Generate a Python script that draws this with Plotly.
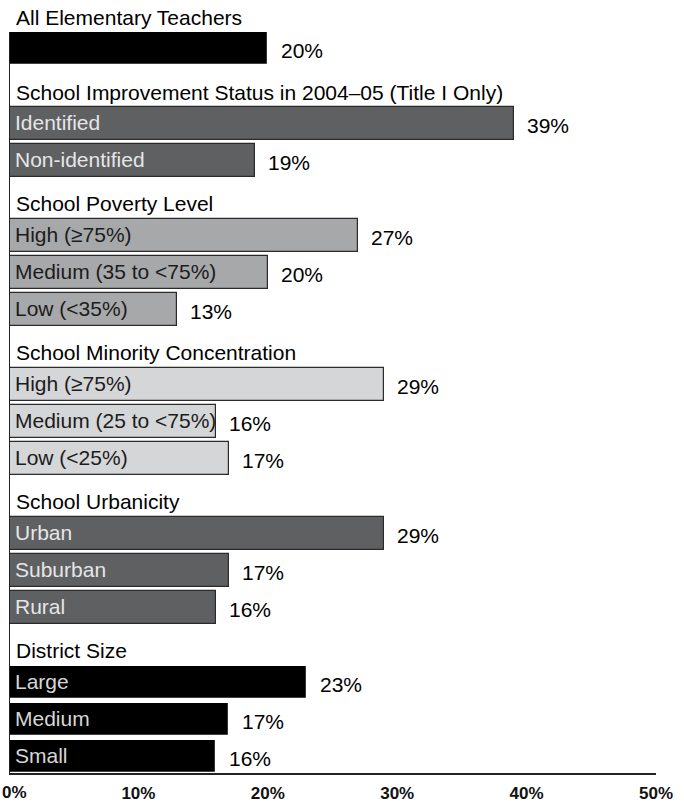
import plotly.graph_objects as go

# Group headings and their categories / percentages
groups = [
    "All Elementary Teachers",
    "School Improvement Status in 2004–05 (Title I Only)",
    "School Poverty Level",
    "School Minority Concentration",
    "School Urbanicity",
    "District Size",
]
all_teachers_labels = [""]
all_teachers_values = [20]
improvement_labels = ["Identified", "Non-identified"]
improvement_values = [39, 19]
poverty_labels = ["High (≥75%)", "Medium (35 to <75%)", "Low (<35%)"]
poverty_values = [27, 20, 13]
minority_labels = ["High (≥75%)", "Medium (25 to <75%)", "Low (<25%)"]
minority_values = [29, 16, 17]
urbanicity_labels = ["Urban", "Suburban", "Rural"]
urbanicity_values = [29, 17, 16]
district_labels = ["Large", "Medium", "Small"]
district_values = [23, 17, 16]

x_ticks = [0, 10, 20, 30, 40, 50]
x_tick_labels = ["0%", "10%", "20%", "30%", "40%", "50%"]

# Styling per group: bar fill, text colour inside bar
group_fill = ["#000000", "#5e6062", "#a7a8aa", "#d5d6d8", "#5e6062", "#000000"]
group_text = ["#ffffff", "#e6e6e6", "#1c1c1c", "#1c1c1c", "#e6e6e6", "#d6d6d6"]

group_labels = [all_teachers_labels, improvement_labels, poverty_labels,
                minority_labels, urbanicity_labels, district_labels]
group_values = [all_teachers_values, improvement_values, poverty_values,
                minority_values, urbanicity_values, district_values]

FONT = "Liberation Sans, Arial, sans-serif"
SIZE = 21
BAR_H = 0.886

# Lay out rows: each group uses one row for its heading, then one row per bar
bar_rows, bar_vals, bar_fill, bar_line, bar_text, bar_tcol = [], [], [], [], [], []
heading_rows = []
row = 0
for gi, (labs, vals) in enumerate(zip(group_labels, group_values)):
    heading_rows.append(row)
    row += 1
    for lab, v in zip(labs, vals):
        bar_rows.append(row)
        bar_vals.append(v)
        bar_fill.append(group_fill[gi])
        bar_line.append("#ffffff" if group_fill[gi] == "#000000" else "#2b2b2b")
        bar_text.append(lab)
        bar_tcol.append(group_text[gi])
        row += 1
last_row = row - 1

fig = go.Figure()
fig.add_trace(go.Bar(
    x=bar_vals, y=bar_rows, orientation="h", width=BAR_H,
    marker=dict(color=bar_fill, line=dict(color=bar_line, width=1.2)),
    hoverinfo="skip", showlegend=False,
))

annotations = []
for gi, r in enumerate(heading_rows):
    annotations.append(dict(
        x=0, y=r, xref="x", yref="y", text=groups[gi], showarrow=False,
        xanchor="left", yanchor="middle", xshift=5, yshift=-6,
        font=dict(family=FONT, size=SIZE, color="#000000"),
    ))
for r, v, lab, tc in zip(bar_rows, bar_vals, bar_text, bar_tcol):
    if lab:
        annotations.append(dict(
            x=0, y=r, xref="x", yref="y", text=lab, showarrow=False,
            xanchor="left", yanchor="middle", xshift=4, yshift=1,
            font=dict(family=FONT, size=SIZE, color=tc),
        ))
    annotations.append(dict(
        x=v, y=r, xref="x", yref="y", text=f"{v}%", showarrow=False,
        xanchor="left", yanchor="middle", xshift=11, yshift=-2,
        font=dict(family=FONT, size=SIZE, color="#000000"),
    ))

# The "0%" tick sits at the left edge of the page, so draw it as its own label
annotations.append(dict(
    x=0, y=0, xref="paper", yref="paper", text=f"<b>{x_tick_labels[0]}</b>",
    showarrow=False, xanchor="left", yanchor="top", yshift=-8, xshift=-9,
    font=dict(family=FONT, size=17, color="#111111"),
))

top = 1 - 49 / 37.26
fig.update_layout(
    width=684, height=802,
    margin=dict(l=9, r=28, t=0, b=29, autoexpand=False),
    paper_bgcolor="#ffffff", plot_bgcolor="#ffffff",
    bargap=0,
    annotations=annotations,
    xaxis=dict(
        range=[0, 50], tickvals=x_ticks[1:],
        ticktext=[f"<b>{t}</b>" for t in x_tick_labels[1:]],
        showgrid=False, zeroline=False, showline=True, linecolor="#222222",
        linewidth=2, ticks="outside", ticklen=4, tickcolor="rgba(0,0,0,0)",
        tickfont=dict(family=FONT, size=17, color="#111111"),
        automargin=False,
    ),
    yaxis=dict(
        range=[last_row + BAR_H / 2, top], showgrid=False, zeroline=False,
        showticklabels=False, showline=False, automargin=False,
    ),
    shapes=[dict(
        type="line", xref="x", yref="y", x0=0, x1=0,
        y0=bar_rows[0] - BAR_H / 2, y1=last_row + BAR_H / 2,
        line=dict(color="#222222", width=2),
    )],
)

fig.write_html("out.html")
